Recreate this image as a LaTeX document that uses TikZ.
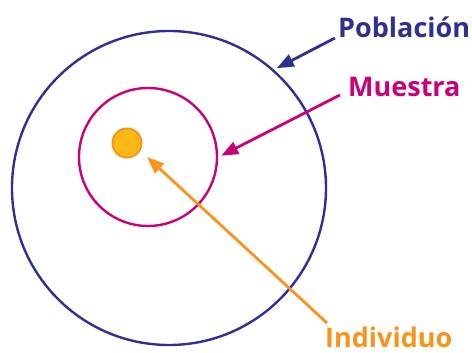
\documentclass[tikz,border=0pt]{standalone}
\usepackage{fontspec}
\setmainfont{Open Sans}
\usepackage{xcolor}
\usetikzlibrary{arrows.meta,positioning}
\definecolor{cPob}{RGB}{46,49,146}
\definecolor{cMue}{RGB}{200,0,122}
\definecolor{cInd}{RGB}{247,148,29}
\definecolor{cDot}{RGB}{253,185,19}

\begin{document}
\begin{tikzpicture}[x=1pt,y=-1pt,
    ring/.style={circle,draw,line width=2.4pt,inner sep=0pt},
    lbl/.style={font=\fontsize{27}{30}\selectfont\bfseries,inner sep=0pt,anchor=base west},
    pointer/.style={line width=2.8pt,-{Triangle[length=17pt,width=13pt]}}]
  \useasboundingbox (0,0) rectangle (472,353);
  % the sets
  \node[ring,cPob,minimum size=314pt] (poblacion) at (169,188) {};
  \node[ring,cMue,minimum size=138pt] (muestra) at (148,157) {};
  \node[circle,draw=cInd,fill=cDot,line width=2pt,minimum size=29pt,inner sep=0pt] (individuo) at (127,143) {};
  % labels
  \node[lbl,text=cPob] (lblPob) at (338,38) {Población};
  \node[lbl,text=cMue] (lblMue) at (348,97) {Muestra};
  \node[lbl,text=cInd] (lblInd) at (325,347) {Individuo};
  \coordinate (tailPob) at (335,38);
  \coordinate (tailMue) at (340,95);
  \coordinate (tailInd) at (327,323);
  % pointers
  \draw[pointer,cPob] (tailPob) -- ([shift={(48.5:3pt)}]poblacion.48.5);
  \draw[pointer,cMue] (tailMue) -- ([shift={(1.6:3pt)}]muestra.1.6);
  \draw[pointer,cInd] (tailInd) -- ([shift={(-35:9pt)}]individuo.-35);
\end{tikzpicture}
\end{document}
